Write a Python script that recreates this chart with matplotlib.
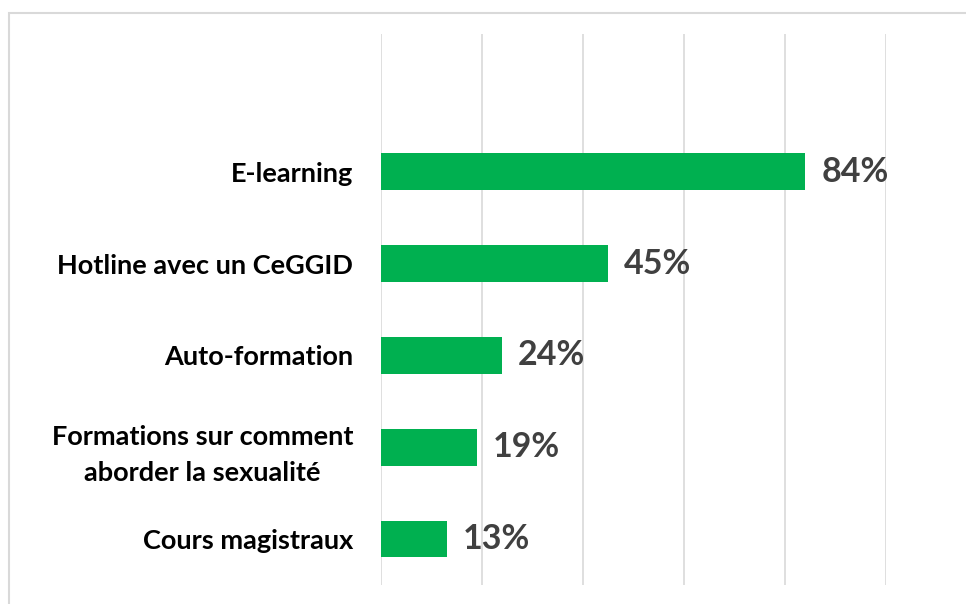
import matplotlib.pyplot as plt
from matplotlib.patches import Rectangle

categories = [
    "E-learning",
    "Hotline avec un CeGGID",
    "Auto-formation",
    "Formations sur comment\naborder la sexualité",
    "Cours magistraux",
]
values = [84, 45, 24, 19, 13]
labels = ["84%", "45%", "24%", "19%", "13%"]

plt.rcParams["font.family"] = ["Lato", "DejaVu Sans"]

W, H = 966, 604
fig = plt.figure(figsize=(W / 100, H / 100), dpi=100)
ax = fig.add_axes([381 / W, 1 - 585 / H, (886 - 381) / W, (585 - 34) / H])

# light frame round the chart area (only left and top show in the crop)
fig.patches.append(Rectangle((9 / W, -0.1), 1.2, 1 - 13 / H + 0.1,
                             transform=fig.transFigure, fill=False,
                             edgecolor="#d9d9d9", linewidth=1.5))

n = len(categories)
ypos = [n - 1 - i for i in range(n)]
bars = ax.barh(ypos, values, height=0.4, color="#00b050", zorder=2)
ax.bar_label(bars, labels=labels, padding=11.5, fontsize=24.5,
             fontweight="bold", color="#404040")

ax.set_xlim(0, 100)
ax.set_ylim(-0.5, n + 0.5)
ax.set_xticks([0, 20, 40, 60, 80, 100])
ax.xaxis.grid(True, color="#d9d9d9", linewidth=1.2, zorder=0)
ax.tick_params(axis="x", length=0, labelbottom=False)
ax.set_yticks(ypos)
ax.set_yticklabels(categories, fontsize=19.5, fontweight="bold",
                   multialignment="center", linespacing=1.6)
ax.tick_params(axis="y", length=0, pad=20)
for s in ax.spines.values():
    s.set_visible(False)

fig.savefig("out.png", dpi=100)
